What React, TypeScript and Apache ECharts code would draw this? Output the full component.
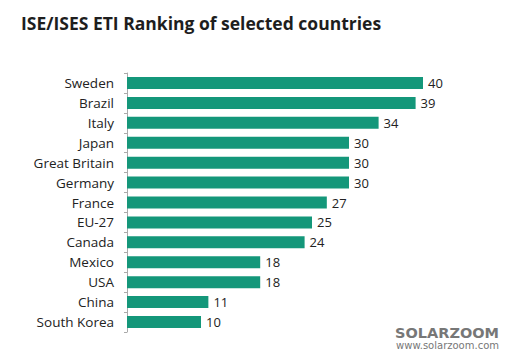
import React, { useEffect, useRef } from "react";
import * as echarts from "echarts";

const categories = [
  "Sweden", "Brazil", "Italy", "Japan", "Great Britain", "Germany", "France",
  "EU-27", "Canada", "Mexico", "USA", "China", "South Korea",
];
const values = [40, 39, 34, 30, 30, 30, 27, 25, 24, 18, 18, 11, 10];
const titleText = "ISE/ISES ETI Ranking of selected countries";

export default function App() {
  const ref = useRef<HTMLDivElement>(null);
  useEffect(() => {
    if (!ref.current) return;
    const chart = echarts.init(ref.current, null, { renderer: "svg" });
    chart.setOption({
      animation: false,
      backgroundColor: "#ffffff",
      title: {
        text: titleText,
        left: 16,
        top: 9,
        textStyle: { fontFamily: "Open Sans", fontWeight: "bold", fontSize: 17.5, color: "#1e1e1e" },
      },
      grid: { left: 127, right: 88, top: 73, bottom: 26, containLabel: false },
      xAxis: { type: "value", min: 0, max: 40, show: false },
      yAxis: {
        type: "category",
        data: categories,
        inverse: true,
        axisLine: { show: true, lineStyle: { color: "#aaaaaa", width: 1 } },
        axisTick: { show: true, length: 3, lineStyle: { color: "#aaaaaa" } },
        axisLabel: { color: "#222222", fontSize: 13.5, fontFamily: "Open Sans", margin: 13 },
      },
      series: [
        {
          type: "bar",
          data: values,
          barWidth: 12,
          itemStyle: { color: "#14977a" },
          label: {
            show: true,
            position: "right",
            distance: 5,
            color: "#222222",
            fontSize: 13,
            fontFamily: "Open Sans",
          },
        },
      ],
      graphic: [
        {
          type: "text",
          right: 12,
          top: 325,
          style: { text: "SOLARZOOM", fontSize: 14.5, fontWeight: "bold", fill: "#777777", fontFamily: "DejaVu Sans" },
        },
        {
          type: "text",
          right: 12,
          top: 340,
          style: { text: "www.solarzoom.com", fontSize: 10, fill: "#777777", fontFamily: "DejaVu Sans" },
        },
      ],
    });
    return () => chart.dispose();
  }, []);
  return <div ref={ref} style={{ width: 511, height: 358, margin: -8 }} />;
}
